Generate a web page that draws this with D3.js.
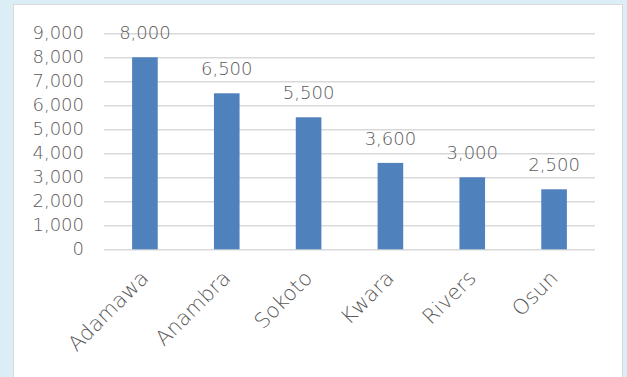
<!DOCTYPE html>
<html>
<head>
<meta charset="utf-8">
<script src="https://cdn.jsdelivr.net/npm/d3@7/dist/d3.min.js"></script>
<style>
  html, body { margin: 0; padding: 0; background: #dbeef5; }
  svg { display: block; }
  text { font-family: "DejaVu Sans", sans-serif; font-weight: 200; fill: #595959; }
</style>
</head>
<body>
<svg id="chart" width="627" height="377"></svg>
<script>
// States and their counts
const states = ["Adamawa", "Anambra", "Sokoto", "Kwara", "Rivers", "Osun"];
const counts = [8000, 6500, 5500, 3600, 3000, 2500];
const yTicks = [0, 1000, 2000, 3000, 4000, 5000, 6000, 7000, 8000, 9000];

const W = 627, H = 377;
const plot = { left: 104, right: 595, top: 33.3, bottom: 249.3 };
const fmt = d3.format(",");

const svg = d3.select("#chart");

// Background and white chart panel
svg.append("rect").attr("width", W).attr("height", H).attr("fill", "#dbeef5");
svg.append("rect")
  .attr("x", 13.5).attr("y", 4.5)
  .attr("width", 609).attr("height", 390)
  .attr("fill", "#ffffff")
  .attr("stroke", "#d9d9d9").attr("stroke-width", 1);

const x = d3.scaleBand()
  .domain(states)
  .range([plot.left, plot.right])
  .paddingInner(0.687)
  .paddingOuter(0.3435);

const y = d3.scaleLinear()
  .domain([0, 9000])
  .range([plot.bottom, plot.top]);

// Horizontal gridlines with value labels
const yAxis = d3.axisLeft(y)
  .tickValues(yTicks)
  .tickFormat(fmt)
  .tickSize(-(plot.right - plot.left))
  .tickPadding(20);

const gy = svg.append("g")
  .attr("transform", `translate(${plot.left},0)`)
  .call(yAxis);
gy.select(".domain").remove();
gy.selectAll(".tick line").attr("stroke", "#d9d9d9").attr("stroke-width", 1.6);
gy.selectAll(".tick text")
  .attr("font-size", 18)
  .attr("dy", "0.27em")
  .attr("fill", "#595959");

// Bars
svg.append("g").selectAll("rect")
  .data(states)
  .join("rect")
  .attr("x", d => x(d))
  .attr("y", (d, i) => y(counts[i]))
  .attr("width", x.bandwidth())
  .attr("height", (d, i) => y(0) - y(counts[i]))
  .attr("fill", "#4f81bd");

// Value labels above bars
svg.append("g").selectAll("text")
  .data(states)
  .join("text")
  .attr("x", d => x(d) + x.bandwidth() / 2)
  .attr("y", (d, i) => y(counts[i]) - 18)
  .attr("text-anchor", "middle")
  .attr("font-size", 18)
  .text((d, i) => fmt(counts[i]));

// Category axis with rotated labels
const xAxis = d3.axisBottom(x).tickSize(0).tickPadding(0);
const gx = svg.append("g")
  .attr("transform", `translate(0,${plot.bottom})`)
  .call(xAxis);
gx.select(".domain").remove();
gx.selectAll(".tick text")
  .attr("font-size", 21)
  .attr("fill", "#595959")
  .attr("text-anchor", "end")
  .attr("dy", null)
  .attr("y", null)
  .attr("transform", "translate(5,30) rotate(-45)");
</script>
</body>
</html>
